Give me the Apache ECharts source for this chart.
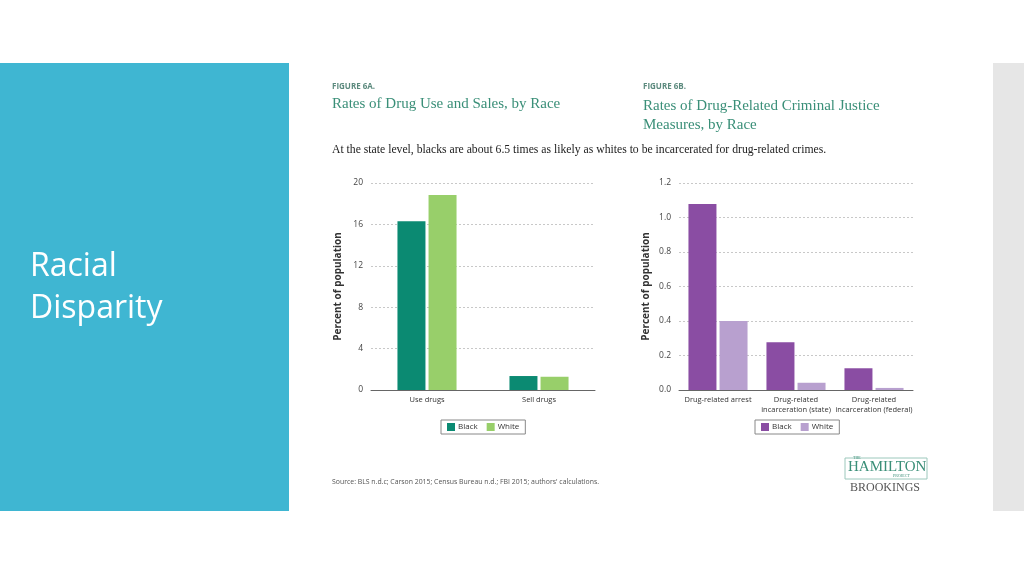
<!DOCTYPE html>
<html><head><meta charset="utf-8">
<script src="https://cdn.jsdelivr.net/npm/echarts@6/dist/echarts.min.js"></script>
<style>html,body{margin:0;padding:0;background:#fff}#c{width:1024px;height:576px}</style>
</head><body><div id="c"></div>
<script>
// Figure 6A
const catsA = ['Use drugs', 'Sell drugs'];
const blackA = [16.3, 1.35];
const whiteA = [18.85, 1.28];
const ticksA = [0, 20, 4]; // min, max, interval
// Figure 6B
const catsB = ['Drug-related arrest', 'Drug-related\nincarceration (state)', 'Drug-related\nincarceration (federal)'];
const blackB = [1.078, 0.277, 0.126];
const whiteB = [0.40, 0.042, 0.012];
const ticksB = [0, 1.2, 0.2];

const serif = '"Liberation Serif", "DejaVu Serif", serif';
const sans = '"Open Sans", "Liberation Sans", sans-serif';
const c1 = '#0B8A72', c2 = '#98CF6A', p1 = '#8A4DA3', p2 = '#B8A0CF';

const chart = echarts.init(document.getElementById('c'));

function yAxis(gi, t, dec) {
  return {
    type: 'value', gridIndex: gi, min: t[0], max: t[1], interval: t[2],
    name: 'Percent of population', nameLocation: 'middle', nameRotate: 90, nameGap: 28,
    nameTextStyle: {fontFamily: sans, fontSize: 10, fontWeight: 'bold', color: '#333'},
    axisLine: {show: false}, axisTick: {show: false},
    axisLabel: {fontFamily: sans, fontSize: 8.5, color: '#444', margin: 8,
      formatter: v => dec ? v.toFixed(1) : String(v)},
    splitLine: {lineStyle: {type: [2, 2], color: '#c8c8c8', width: 1}}
  };
}
function xAxis(gi, cats) {
  return {
    type: 'category', gridIndex: gi, data: cats,
    axisLine: {lineStyle: {color: '#666', width: 1}}, axisTick: {show: false},
    axisLabel: {fontFamily: sans, fontSize: 7.5, color: '#333', margin: 5, lineHeight: 10, interval: 0}
  };
}
function legend(left, names) {
  return {
    left: left, top: 420, itemWidth: 8, itemHeight: 8, itemGap: 9, icon: 'rect',
    borderColor: '#888', borderWidth: 1, padding: [3, 6, 3, 6], data: names,
    formatter: n => n.trim(), selectedMode: false,
    textStyle: {fontFamily: sans, fontSize: 8, color: '#333', padding: [0, 0, 0, -2]}
  };
}

chart.setOption({
  animation: false,
  backgroundColor: '#fff',
  grid: [
    {left: 371, width: 224, top: 183, height: 207},
    {left: 679, width: 234, top: 183, height: 207}
  ],
  xAxis: [xAxis(0, catsA), xAxis(1, catsB)],
  yAxis: [yAxis(0, ticksA, false), yAxis(1, ticksB, true)],
  legend: [legend(441, ['Black', 'White']), legend(755, ['Black ', 'White '])],
  series: [
    {name: 'Black', type: 'bar', xAxisIndex: 0, yAxisIndex: 0, data: blackA, barWidth: 28, barGap: '11%', itemStyle: {color: c1}},
    {name: 'White', type: 'bar', xAxisIndex: 0, yAxisIndex: 0, data: whiteA, barWidth: 28, barGap: '11%', itemStyle: {color: c2}},
    {name: 'Black ', type: 'bar', xAxisIndex: 1, yAxisIndex: 1, data: blackB, barWidth: 28, barGap: '11%', itemStyle: {color: p1}},
    {name: 'White ', type: 'bar', xAxisIndex: 1, yAxisIndex: 1, data: whiteB, barWidth: 28, barGap: '11%', itemStyle: {color: p2}}
  ],
  graphic: [
    {type: 'rect', shape: {x: 0, y: 63, width: 289, height: 448}, style: {fill: '#3FB6D2'}, z: -1},
    {type: 'rect', shape: {x: 993, y: 63, width: 31, height: 448}, style: {fill: '#E6E6E6'}, z: -1},
    {type: 'text', left: 30, top: 246, style: {text: 'Racial\nDisparity', fill: '#fff', font: '32px ' + sans, lineHeight: 42}},
    {type: 'text', left: 332, top: 83, style: {text: 'FIGURE 6A.', fill: '#5C8A7E', font: 'bold 8px ' + sans}},
    {type: 'text', left: 332, top: 97, style: {text: 'Rates of Drug Use and Sales, by Race', fill: '#3A8F78', font: '15px ' + serif}},
    {type: 'text', left: 643, top: 83, style: {text: 'FIGURE 6B.', fill: '#5C8A7E', font: 'bold 8px ' + sans}},
    {type: 'text', left: 643, top: 97, style: {text: 'Rates of Drug-Related Criminal Justice\nMeasures, by Race', fill: '#3A8F78', font: '15px ' + serif, lineHeight: 19}},
    {type: 'text', left: 332, top: 144, style: {text: 'At the state level, blacks are about 6.5 times as likely as whites to be incarcerated for drug-related crimes.', fill: '#222', font: '11.7px ' + serif}},
    {type: 'text', left: 332, top: 479, style: {text: "Source: BLS n.d.c; Carson 2015; Census Bureau n.d.; FBI 2015; authors' calculations.", fill: '#555', font: '6.9px ' + sans}},
    {type: 'rect', shape: {x: 845, y: 458, width: 82, height: 21}, style: {fill: 'none', stroke: '#9CC8BC', lineWidth: 1}},
    {type: 'text', left: 853, top: 456, style: {text: 'THE', fill: '#3A8F78', font: '4px ' + serif}},
    {type: 'text', left: 848, top: 460, style: {text: 'HAMILTON', fill: '#3A8F78', font: '15px ' + serif}},
    {type: 'text', left: 893, top: 474, style: {text: 'PROJECT', fill: '#3A8F78', font: '4px ' + serif}},
    {type: 'text', left: 850, top: 482, style: {text: 'BROOKINGS', fill: '#555', font: '12px ' + serif}}
  ]
});
</script></body></html>
